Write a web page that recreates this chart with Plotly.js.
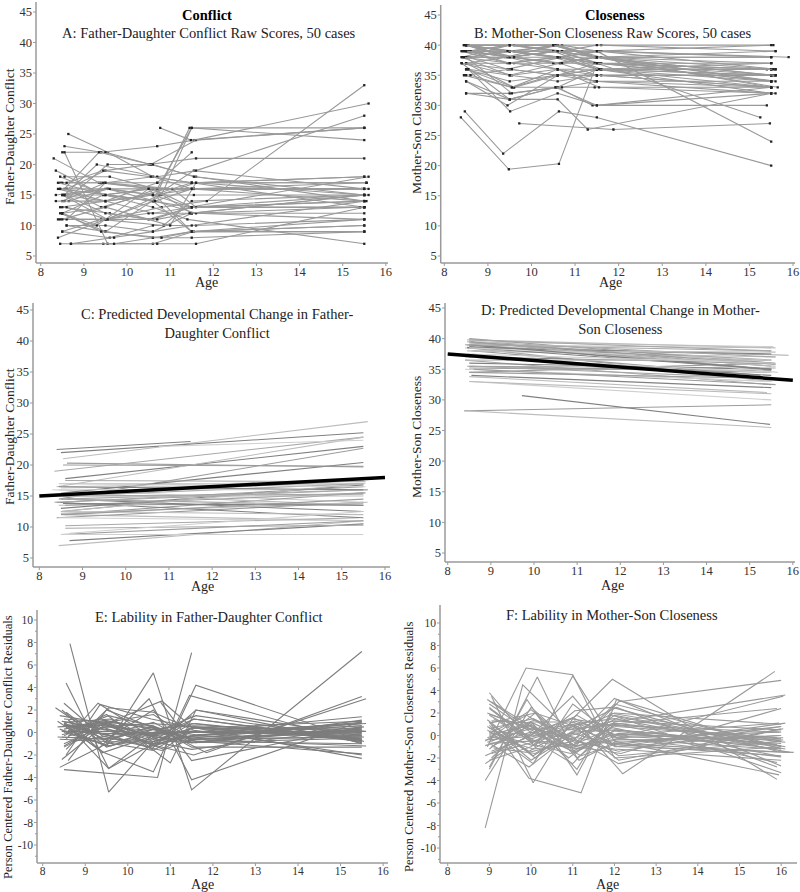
<!DOCTYPE html>
<html><head><meta charset="utf-8">
<script src="https://cdn.plot.ly/plotly-3.0.1.min.js"></script>
<style>html,body{margin:0;padding:0;background:#fff}#chart{width:800px;height:892px}</style>
</head><body><div id="chart"></div>
<script>
// ---------------- DATA ----------------
const ageTicks = [8, 9, 10, 11, 12, 13, 14, 15, 16];
const scoreTicks = [5, 10, 15, 20, 25, 30, 35, 40, 45];
const residTicks = [-10, -8, -6, -4, -2, 0, 2, 4, 6, 8, 10];
const residTickText = ['-10', '-8', '-6', '-4', '-2', '0', '2', '4', '6', '8', '10'];
const residMinorTicks = [-11, -9, -7, -5, -3, -1, 1, 3, 5, 7, 9];

// Father-Daughter conflict: ages at each wave, per case
const conflictAges = [
 [8.64,9.55,10.6,11.5,15.5],[8.55,9.4,10.7,11.55,15.6],[8.5,9.5,10.55,11.6,15.5],[8.3,9.35,10.6,11.5,15.5],[8.35,9.45,10.6,11.45,15.5],
 [8.45,9.5,10.8,11.5,15.5],[8.55,9.55,10.6,11.55,15.5],[8.6,9.5,10.5,11.6,15.5],[8.45,9.4,10.7,11.5,15.55],[8.5,9.6,10.6,11.45,15.6],
 [8.4,9.5,10.5,11.5,15.5],[8.45,9.45,10.7,11.6,15.5],[8.7,9.7,10.6,11.5,15.5],[8.5,9.5,10.6,11.5,15.45],[8.6,9.4,10.9,11.55,15.5],
 [8.5,9.55,10.75,11.6,15.5],[8.45,9.5,10.6,11.5,15.5],[8.5,9.45,10.55,11.55,15.5],[8.55,9.6,10.65,11.5,15.55],[8.6,9.5,10.6,11.5,15.4],
 [8.5,9.4,10.85,11.5,15.5],[8.4,9.5,10.8,11.85,15.5],[8.55,9.3,10.7,11.6,15.5],[10.77,11.48,15.5],[8.35,9.5,10.6,11.5,15.5],
 [8.5,9.5,10.7,11.5],[8.5,9.45,10.6,11.5,15.5],[8.65,9.55,10.65,11.6,15.5],[8.45,9.5,10.6,11.5,15.5],[8.6,9.5,10.6,11.5,15.5],
 [8.55,9.35,10.55,11.6,15.5],[8.5,9.6,10.5,11.5,15.6],[8.4,9.5,10.6,11.4,15.5],[8.45,9.55,10.7,11.55,15.5],[8.5,9.5,10.6,11.5,15.5],
 [8.6,9.5,11.05,11.6,15.55],[8.5,9.3,10.5,11.5,15.5],[8.4,9.5,10.7,11.5],[8.55,9.55,10.6,11.55,15.5],[8.6,9.45,10.55,11.5,15.55],
 [8.5,9.6,10.6,11.6,15.5],[8.45,9.5,10.65,11.5,15.5],[8.55,9.5,10.6,11.5,15.5],[8.5,9.4,10.8,11.5,15.5],[8.35,9.5,10.6,11.55,15.6],
 [8.6,9.55,10.7,11.45,15.5],[8.5,9.5,11.0,11.6,15.5],[8.45,9.5,10.5,11.5,15.5],[8.7,9.7,10.6,11.5,15.5],[8.55,9.6,10.6,11.55,15.5]
];
const conflictRaw = [
 [25,22,18,17,13],[23,22,23,24,30],[22,22,20,24,26],[21,17,16,13,13],[19,15,14,26,26],
 [12,9,15,26,24],[22,7,7,9,10],[16,19,20,21,21],[17,17,17,17,17],[15,15,14,13,18],
 [11,11,12,12,15],[7,7,7,7,13],[7,7,8,8,9],[14,17,18,16,16],[16,13,16,19,16],
 [15,11,15,17,15],[13,14,12,13,14],[12,15,16,16,16],[18,18,16,16,17],[10,10,9,12,13],
 [9,11,10,14,15],[8,11,13,14,33],[15,20,18,19,28],[26,24,26],[15,16,15,17,18],
 [12,13,16,26],[17,17,16,12,12],[14,16,14,12,11],[11,11,14,9,9],[10,9,8,9,10],
 [16,22,20,18,14],[13,12,11,13,15],[17,15,13,11,7],[16,16,16,16,16],[15,14,15,13,13],
 [11,17,16,13,14],[12,10,16,9,11],[16,14,17,22],[14,20,20,18,15],[17,19,18,17,17],
 [9,8,10,10,11],[16,15,14,16,14],[15,12,11,13,13],[12,9,8,9,9],[14,14,15,16,16],
 [13,11,11,12,15],[11,13,10,17,18],[18,15,16,16,16],[7,8,9,10,14],[15,16,15,15,15]
];
// predicted trajectory value at first and last observed age of each case
const conflictPredStart = [20.3,21.0,22.0,16.0,19.0,14.5,12.0,17.8,17.0,14.5,11.5,7.0,7.8,16.3,15.0,14.0,13.5,13.0,17.0,10.2,12.0,16.5,15.5,23.0,15.0,12.5,15.5,14.5,11.5,9.8,20.0,12.2,14.0,16.0,14.5,13.5,12.5,22.5,16.5,17.5,8.8,15.0,13.8,8.8,14.0,12.0,12.5,16.5,9.0,15.0];
const conflictPredEnd   = [19.7,27.0,25.2,14.0,24.5,22.7,11.0,23.0,17.0,16.0,14.0,11.0,10.5,17.0,17.0,16.5,13.8,16.8,16.5,11.5,15.5,24.5,20.4,24.0,17.5,14.5,13.5,12.5,11.0,10.3,19.8,14.0,11.5,16.0,13.5,15.5,12.0,23.8,17.5,17.3,11.0,15.0,13.5,8.8,16.0,14.5,17.0,16.0,12.5,15.3];
const conflictMeanAges = [8, 16];
const conflictMean = [15.0, 18.0];
const conflictResid = [
 [7.9,-5.3,-0.8,0.4,-0.6],[0.5,0.8,-1.2,-2.0,3.0],[0.3,1.0,-1.5,2.0,-0.9],[2.2,-0.5,-0.8,-1.5,0.4],[1.0,-1.8,-3.5,3.3,-1.0],
 [-2.4,0.8,2.8,0.5,-0.2],[4.4,-3.2,-1.0,1.2,-0.7],[-0.3,0.5,0.2,0.8,-0.7],[0.1,0.1,0.0,0.0,0.1],[0.6,0.9,0.4,-0.6,-1.2],
 [-0.6,-0.8,0.5,-0.5,0.8],[1.0,0.3,-0.4,-0.9,1.1],[0.4,-0.4,0.5,-0.6,0.2],[-1.2,0.9,1.6,-0.6,-0.4],[1.1,-1.8,0.1,1.2,-0.8],
 [1.0,-3.2,0.2,1.5,-0.6],[-0.2,0.8,-1.2,-0.3,0.6],[-1.3,0.5,0.8,0.5,-0.6],[0.9,1.2,-0.7,-0.9,0.5],[0.5,0.7,-0.8,0.4,-0.5],
 [-1.0,0.5,-1.5,0.4,1.0],[-3.1,-1.0,0.2,-1.8,3.2],[-0.6,2.6,-0.7,-0.3,0.8],[2.7,-0.9,0.3],[0.5,0.7,-0.3,0.1,-0.4],
 [-3.3,null,-4.0,7.1],[1.2,0.9,0.6,-1.3,-1.3],[0.2,1.5,0.5,-0.8,-1.0],[-0.4,-0.6,2.0,-2.5,0.5],[0.2,-1.2,5.3,-5.1,7.2],
 [-2.0,2.5,1.2,0.4,-2.3],[0.7,-0.3,-1.3,0.0,0.8],[1.5,0.8,-0.4,-0.7,-1.9],[0.1,-0.1,0.0,0.1,0.0],[0.8,-0.2,0.9,-0.9,-0.5],
 [-2.5,2.0,-0.2,4.2,-0.8],[0.8,-1.5,3.0,-4.2,1.0],[0.3,-1.2,-0.5,1.5],[-1.5,2.2,1.8,0.2,-2.0],[0.2,1.1,0.3,-0.6,-0.4],
 [0.0,-1.2,0.3,-0.2,0.6],[1.0,0.2,-1.0,0.8,-0.8],[1.8,-0.9,-1.6,0.4,0.3],[2.6,-0.3,-1.6,-0.6,0.1],[-0.4,-0.6,0.3,0.6,0.1],
 [1.1,-0.8,-1.0,-0.3,0.9],[-0.3,1.6,-2.7,2.0,-0.3],[2.0,-1.3,-0.2,0.1,-0.3],[-0.8,-0.2,-0.1,0.0,1.4],[0.0,0.8,-0.4,-0.4,-0.1]
];

// Mother-Son closeness
const closenessAges = [
 [8.38,9.48,10.63,11.45,15.5],[8.47,9.35,10.63,11.5,15.5],[9.72,11.88,15.47],[8.5,9.5,10.6,11.29,15.5],[8.5,9.5,10.7,11.5,15.5],
 [8.6,9.6,10.5,11.5,15.25],[8.5,9.5,10.6,11.4,15.4],[8.55,9.51,10.6,11.5,15.5],[8.4,9.5,10.55,11.45,15.5],[8.45,9.55,10.5,11.6,15.6],
 [8.5,9.45,10.6,11.5,15.5],[8.4,9.5,10.6,11.6,15.6],[8.45,9.5,10.5,11.5,15.5],[8.5,9.6,10.7,11.5,15.55],[8.5,9.4,10.6,11.5,15.5],
 [8.55,9.5,10.6,11.55,15.5],[8.45,9.55,10.65,11.5,15.6],[8.5,9.6,10.6,11.5,15.5],[8.4,9.45,10.55,11.45,15.5],[8.6,9.5,10.7,11.6,15.9],
 [8.5,9.5,10.6,11.5,15.5],[8.45,9.6,10.55,11.6,15.6],[8.5,9.5,10.6,11.5,15.4],[8.55,9.45,10.7,11.5,15.5],[8.4,9.55,10.6,11.45,15.5],
 [8.5,9.5,10.5,11.5,15.55],[8.6,9.5,10.65,11.6,15.6],[8.45,9.45,10.6,11.5,15.5],[8.5,9.6,10.6,11.5,15.5],[8.55,9.5,10.55,11.55,15.6],
 [8.5,9.5,10.6,11.5,15.5],[8.4,9.4,10.7,11.5,15.5],[8.5,9.55,10.6,11.5,15.5],[8.6,9.5,10.5,11.45,15.65],[8.45,9.5,10.6,11.55,15.5],
 [8.5,9.6,10.7,11.5,15.5],[8.55,9.5,10.5,11.5,15.6],[8.5,9.45,10.6,11.6,15.5],[8.4,9.5,10.65,11.5,15.5],[8.5,9.5,10.6,11.5,15.5],
 [8.6,9.55,10.6,11.55,15.6],[8.5,9.5,10.55,11.5,15.5],[8.45,9.6,10.7,11.5,15.5],[8.5,9.5,10.6,11.45,15.5],[8.55,9.5,10.6,11.5,15.5],
 [8.5,9.45,10.5,11.6,15.6],[8.4,9.55,10.6,11.5,15.5],[8.5,9.5,10.6,11.5,15.5],[8.45,9.5,10.65,11.55,15.55],[8.5,9.6,10.6,11.5,15.5]
];
const closenessRaw = [
 [28,19.4,20.3,36,35],[29,22,29,28,20],[27,26,27],[32,31,31,26,32],[40,39,40,39,24],
 [39,38,37,37,28],[32,32,33,30,30],[36,29,32,30,33],[37,31,33,33,33],[35,33,35,35,35],
 [34,30,35,36,36],[38,40,40,38,34],[39,39,38,36,33],[40,40,39,39,40],[40,38,40,38,35],
 [39,40,39,37,34],[38,38,37,38,36],[37,37,36,35,33],[39,37,38,38,38],[38,39,38,39,38],
 [36,34,35,35,35],[40,39,40,40,39],[39,38,39,37,36],[38,36,38,36,32],[37,35,36,34,32],
 [40,40,40,38,35],[39,39,38,37,35],[38,38,39,38,37],[37,33,35,34,33],[40,38,39,39,36],
 [35,36,35,36,34],[39,39,39,40,40],[38,32,33,36,37],[39,40,40,38,33],[40,39,38,37,34],
 [36,33,33,34,34],[39,37,37,38,39],[37,38,36,36,36],[38,35,37,35,35],[40,40,39,38,38],
 [35,33,36,33,32],[34,31,33,30,32],[39,38,37,38,34],[38,39,38,37,36],[36,35,34,35,33],
 [40,39,39,36,35],[37,36,35,37,37],[39,38,39,38,33],[38,37,38,36,36],[40,38,38,39,38]
];
const closenessPredStart = [28.2,28.2,30.7,33.0,38.5,38.0,33.8,34.0,35.0,35.5,34.5,39.0,39.0,39.5,39.3,39.5,38.0,37.0,38.5,38.5,35.2,39.8,38.7,37.5,36.5,40.0,39.0,38.5,35.0,39.5,35.5,39.0,36.0,39.6,39.5,34.5,38.0,37.0,37.0,39.8,35.0,33.0,38.6,38.5,35.5,39.5,36.5,39.0,37.5,39.0];
const closenessPredEnd   = [29.2,25.5,26.0,30.0,33.0,34.0,31.2,32.0,33.0,35.2,36.0,36.0,35.0,38.7,36.5,35.5,37.0,34.0,37.5,37.3,34.8,38.5,36.5,33.5,32.5,36.0,35.5,37.5,33.0,37.0,34.5,38.5,35.0,34.5,35.0,33.5,37.8,36.0,34.5,38.0,32.5,31.0,35.0,36.5,33.5,35.8,36.5,35.0,36.0,38.0];
const closenessMeanAges = [8, 16];
const closenessMean = [37.5, 33.2];
const closenessResidAges = [
 [8.9,9.8,10.9,11.95,15.9],[8.95,9.88,11.0,12.0,16.0],[9.0,10.15,11.1,12.0,15.9],[9.0,9.95,11.2,12.05,16.0],[9.05,10.05,11.0,11.95,15.9],
 [8.95,10.0,11.15,12.2,15.85],[9.0,10.1,11.0,12.0,15.95],[8.9,10.0,11.05,12.1,16.0],[9.05,10.0,10.9,12.0,16.1],[9.0,9.9,11.1,11.9,16.0],
 [8.95,10.05,11.0,12.05,16.05],[9.1,10.0,11.2,12.0,15.9],[9.0,10.1,11.05,12.1,16.0],[8.95,9.95,11.0,12.0,16.0],[9.05,10.0,11.1,11.9,16.1],
 [9.0,10.05,10.95,12.05,15.95],[8.9,10.0,11.0,12.0,16.0],[9.0,9.9,11.1,12.15,16.0],[9.05,10.1,11.0,12.0,16.2],[9.0,10.0,11.05,11.95,15.9],
 [8.95,10.0,11.2,12.0,16.0],[9.0,10.05,11.0,12.1,16.05],[9.05,9.95,11.1,12.0,16.0],[9.0,10.1,11.0,11.9,15.9],[8.9,10.0,10.95,12.05,16.0],
 [9.0,10.05,11.05,12.0,16.1],[9.1,10.0,11.0,12.1,16.0],[9.0,9.9,11.15,12.0,16.0],[8.95,10.05,11.0,12.05,15.9],[9.05,10.0,11.1,12.0,16.0],
 [9.0,10.1,11.0,11.95,16.2],[8.9,10.0,11.05,12.1,16.0],[9.0,9.95,11.0,12.0,16.0],[9.05,10.05,11.1,12.05,15.95],[9.0,10.0,10.95,12.0,16.1],
 [8.95,10.1,11.0,12.1,16.0],[9.0,10.0,11.1,12.0,16.0],[9.05,9.9,11.0,12.05,15.9],[9.0,10.05,11.05,12.0,16.05],[8.9,10.0,11.0,12.1,16.0],
 [9.0,10.1,11.15,12.0,15.95],[9.05,10.0,11.0,11.9,16.0],[9.0,9.95,11.05,12.05,16.1],[8.95,10.05,10.95,12.0,16.0],[9.0,10.0,11.1,12.1,15.9],
 [9.1,10.1,11.0,12.0,16.0],[9.0,10.0,11.05,12.05,16.05],[8.9,9.9,11.0,12.0,16.0],[9.05,10.05,11.1,11.95,15.9],[9.0,10.0,11.0,12.1,16.3]
];
const closenessResid = [
 [-8.2,4.5,0.5,1.0,2.4],[-1.0,6.0,5.4,-2.0,-1.0],[-3.0,5.2,-2.0,0.5,-0.8],[1.2,-3.8,-5.1,3.2,-1.2],[3.5,-4.2,1.5,5.0,-3.9],
 [2.0,0.5,1.0,-3.4,5.7],[3.8,-1.0,5.3,-0.5,-3.5],[-4.0,2.5,-1.0,3.0,4.9],[3.0,0.8,-2.0,1.2,3.6],[-2.8,3.2,-3.5,2.0,-0.5],
 [0.5,-2.5,2.8,-0.2,3.5],[1.5,-0.5,-1.2,1.0,-1.8],[-1.2,2.0,0.8,-2.2,0.6],[0.8,-1.5,-0.5,3.3,-2.7],[-0.5,1.2,-3.0,1.8,-1.2],
 [2.5,-0.8,-1.6,0.0,1.1],[-1.8,0.0,3.5,-1.0,0.0],[0.2,1.8,-1.0,-1.6,2.4],[1.0,-2.0,1.0,1.5,-1.5],[-2.2,-1.0,2.2,2.5,-1.4],
 [3.2,0.5,-1.8,-0.8,0.8],[0.6,1.5,-0.2,-2.5,0.6],[-0.8,-2.8,0.5,2.0,1.0],[1.8,-0.5,-2.5,1.0,-0.2],[-2.5,0.2,1.5,0.8,-0.3],
 [0.0,-1.2,-0.8,1.8,-1.0],[2.2,-0.3,0.8,-1.8,-0.5],[-0.3,0.9,-0.6,-1.2,-2.2],[1.4,-1.8,0.3,0.5,-0.8],[-1.0,1.0,-1.5,0.9,0.3],
 [0.4,0.0,1.0,-0.7,-1.5],[-0.5,2.3,-1.0,0.2,-0.7],[2.8,0.4,-1.4,0.4,-1.2],[-1.6,-0.6,1.8,-0.2,0.3],[0.9,-2.2,0.0,1.1,-0.6],
 [-0.2,1.4,-0.4,-1.4,0.8],[1.9,0.6,-0.2,-0.8,-1.8],[-1.4,-0.2,0.6,2.5,-2.8],[0.3,-0.9,1.3,0.1,-0.4],[-0.9,0.3,-0.3,1.6,-3.3],
 [1.1,2.0,-2.2,-0.6,0.0],[-2.0,1.2,1.2,0.0,-0.9],[0.7,-1.4,0.9,-1.0,1.1],[-0.6,0.7,-1.1,2.8,-1.0],[2.4,-0.4,-0.9,-0.3,-1.2],
 [-1.1,-1.6,0.4,1.3,0.5],[0.1,0.9,-1.2,-0.4,-0.2],[-0.4,-0.1,1.6,-0.2,-1.9],[1.3,1.1,-0.7,0.7,-2.4],[-0.7,-0.5,0.2,-1.0,-1.5]
];

// ---------------- BUILD ----------------
const FONT = 'Liberation Serif';
const traces = [];
function rawTraces(agesList, valsList, ax) {
  agesList.forEach((a, i) => {
    traces.push({type:'scatter', mode:'lines+markers', x:a, y:valsList[i], xaxis:'x'+ax, yaxis:'y'+ax,
      line:{color:'#999999', width:1.1}, marker:{symbol:'square', size:2.3, color:'#222'}, hoverinfo:'skip'});
  });
}
const predGrays = ['#9c9c9c','#bcbcbc','#808080','#cfcfcf','#a8a8a8'];
function predTraces(agesList, starts, ends, ax) {
  agesList.forEach((a, i) => {
    traces.push({type:'scatter', mode:'lines', x:[a[0], a[a.length-1]], y:[starts[i], ends[i]], xaxis:'x'+ax, yaxis:'y'+ax,
      line:{color:predGrays[i % predGrays.length], width:1.1}, hoverinfo:'skip'});
  });
}
function residTraces(agesList, valsList, ax, color) {
  agesList.forEach((a, i) => {
    const x = [], y = [];
    a.forEach((v, j) => { if (valsList[i][j] !== null && valsList[i][j] !== undefined) { x.push(v); y.push(valsList[i][j]); } });
    traces.push({type:'scatter', mode:'lines', x, y, xaxis:'x'+ax, yaxis:'y'+ax, line:{color, width:1.1}, hoverinfo:'skip'});
  });
}
rawTraces(conflictAges, conflictRaw, '');
rawTraces(closenessAges, closenessRaw, '2');
predTraces(conflictAges, conflictPredStart, conflictPredEnd, '3');
traces.push({type:'scatter', mode:'lines', x:conflictMeanAges, y:conflictMean, xaxis:'x3', yaxis:'y3', line:{color:'#000', width:3.5}, hoverinfo:'skip'});
predTraces(closenessAges, closenessPredStart, closenessPredEnd, '4');
traces.push({type:'scatter', mode:'lines', x:closenessMeanAges, y:closenessMean, xaxis:'x4', yaxis:'y4', line:{color:'#000', width:3.5}, hoverinfo:'skip'});
residTraces(conflictAges, conflictResid, '5', '#7d7d7d');
residTraces(closenessResidAges, closenessResid, '6', '#999999');

// panel geometry in pixels (left, right, top, bottom) and ranges
const W = 800, H = 892;
const panels = [
  {px:[36,388], py:[2,263],   xr:[7.89,16.05], yr:[3.85,46.64], kind:'score'},
  {px:[440.7,795], py:[5,263], xr:[7.917,16.046], yr:[3.84,46.66], kind:'score'},
  {px:[33,390], py:[303,567], xr:[7.854,16.116], yr:[3.55,46.13], kind:'score'},
  {px:[445,795], py:[303,562], xr:[7.937,16.05], yr:[3.53,45.82], kind:'score'},
  {px:[37,388], py:[610,863], xr:[7.866,16.115], yr:[-11.6,10.89], kind:'resid'},
  {px:[440,797], py:[605,863], xr:[7.815,16.38], yr:[-11.33,11.6], kind:'resid'}
];
const layout = {width:W, height:H, margin:{l:0,r:0,t:0,b:0}, showlegend:false, plot_bgcolor:'#fff', paper_bgcolor:'#fff',
  font:{family:FONT, color:'#333'}, annotations:[], shapes:[]};
const AX = '#9a9a9a';
panels.forEach((p, i) => {
  const n = i === 0 ? '' : String(i+1);
  const tf = {family:FONT, size: p.kind === 'score' ? 12.5 : 11.5, color:'#333'};
  const xd = [p.px[0]/W, p.px[1]/W], yd = [1-p.py[1]/H, 1-p.py[0]/H];
  // axes carry the tick labels; floated so labels sit just outside the axis lines
  layout['xaxis'+n] = {domain:xd, range:p.xr, anchor:'free', position:yd[0] + 1/H, showgrid:false, zeroline:false,
    showline:false, ticks:'', tickmode:'array', tickvals:ageTicks, tickfont:tf, fixedrange:true};
  const y = {domain:yd, range:p.yr, anchor:'free', position:xd[0] - 4/W, showgrid:false, zeroline:false,
    showline:false, ticks:'', tickmode:'array', tickfont:tf, fixedrange:true};
  if (p.kind === 'score') { y.tickvals = scoreTicks; } else { y.tickvals = residTicks; y.ticktext = residTickText; }
  layout['yaxis'+n] = y;
  // axis lines
  layout.shapes.push({type:'line', xref:'paper', yref:'paper', x0:xd[0], x1:xd[1], y0:yd[0], y1:yd[0], line:{color:AX, width:1.5}});
  layout.shapes.push({type:'line', xref:'paper', yref:'paper', x0:xd[0], x1:xd[0], y0:yd[0], y1:yd[1], line:{color:AX, width:1.5}});
  // small outside tick marks placed through the axes' own scales
  ageTicks.forEach(t => layout.shapes.push({type:'line', xref:'x'+n, yref:'paper', x0:t, x1:t, y0:yd[0], y1:yd[0] - 3/H, line:{color:AX, width:1}}));
  const yt = p.kind === 'score' ? scoreTicks : residTicks;
  yt.forEach(t => layout.shapes.push({type:'line', xref:'paper', yref:'y'+n, x0:xd[0] - 3/W, x1:xd[0], y0:t, y1:t, line:{color:AX, width:1}}));
  if (p.kind === 'resid') residMinorTicks.forEach(t => layout.shapes.push({type:'line', xref:'paper', yref:'y'+n, x0:xd[0] - 2/W, x1:xd[0], y0:t, y1:t, line:{color:AX, width:1}}));
});
function ann(text, px, py, size, opts) {
  layout.annotations.push(Object.assign({text, x:px/W, y:1-py/H, xref:'paper', yref:'paper', showarrow:false,
    xanchor:'center', yanchor:'middle', font:{family:FONT, size, color:'#222'}}, opts || {}));
}
ann('<b>Conflict</b>', 207, 15, 14.5, {font:{family:FONT, size:14.5, color:'#000'}});
ann('A: Father-Daughter Conflict Raw Scores, 50 cases', 209, 33, 14.5);
ann('<b>Closeness</b>', 615, 15, 14.5, {font:{family:FONT, size:14.5, color:'#000'}});
ann('B: Mother-Son Closeness Raw Scores, 50 cases', 613, 33, 14.5);
ann('C: Predicted Developmental Change in Father-<br>Daughter Conflict', 217, 324, 14.5);
ann('D: Predicted Developmental Change in Mother-<br>Son Closeness', 620, 320, 14.5);
ann('E: Lability in Father-Daughter Conflict', 209, 617, 14.5);
ann('F: Lability in Mother-Son Closeness', 612, 615, 14.5);
ann('Age', 207, 282.5, 14); ann('Age', 610, 282.5, 14); ann('Age', 203, 586, 14);
ann('Age', 612, 585, 14); ann('Age', 202, 884, 14); ann('Age', 607, 884, 14);
ann('Father-Daughter Conflict', 9, 137, 13.5, {textangle:-90});
ann('Mother-Son Closeness', 416, 133, 13.5, {textangle:-90});
ann('Father-Daughter Conflict', 9, 437, 13.5, {textangle:-90});
ann('Mother-Son Closeness', 416, 437, 13.5, {textangle:-90});
ann('Person Centered Father-Daughter Conflict Residuals', 8, 747, 12.5, {textangle:-90});
ann('Person Centered Mother-Son Closeness Residuals', 409, 747, 12.5, {textangle:-90});

Plotly.newPlot('chart', traces, layout, {staticPlot:true, displayModeBar:false});
</script></body></html>
